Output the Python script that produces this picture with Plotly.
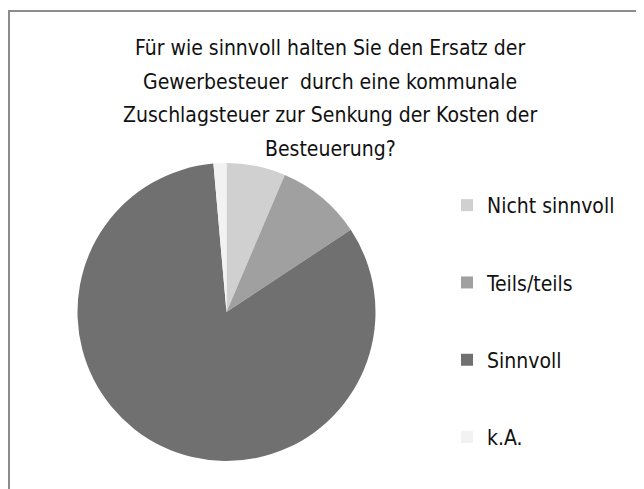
import plotly.graph_objs as go

# Survey answers (share of respondents, %)
labels = ['Nicht sinnvoll', 'Teils/teils', 'Sinnvoll', 'k.A.']
values = [6.4, 9.3, 82.9, 1.4]
colors = ['#d0d0d0', '#a0a0a0', '#707070', '#f2f2f2']

title_lines = [
    'Für wie sinnvoll halten Sie den Ersatz der',
    'Gewerbesteuer  durch eine kommunale',
    'Zuschlagsteuer zur Senkung der Kosten der',
    'Besteuerung?',
]

FONT = 'DejaVu Sans Condensed, Liberation Sans Narrow, sans-serif'
W, H = 644, 489
OFF = 8  # the page body margin shifts the figure by 8px

pie = go.Pie(labels=labels,
             values=values,
             marker=dict(colors=colors, line=dict(width=0)),
             sort=False,
             direction='clockwise',
             rotation=0,
             textinfo='none',
             showlegend=False,
             domain=dict(x=[(77.5 - OFF) / W, (375.5 - OFF) / W],
                         y=[1 - (461 - OFF) / H, 1 - (163 - OFF) / H]))

# legend entries as separate groups so the spacing can follow the original
legend_traces = []
for lab, col in zip(labels, colors):
    legend_traces.append(go.Scatter(x=[None], y=[None],
                                    mode='markers',
                                    name=lab,
                                    legendgroup=lab,
                                    marker=dict(symbol='square', size=12, color=col)))

fig = go.Figure(data=[pie, *legend_traces])

title_y = [48, 82, 115, 149]
for line, yp in zip(title_lines, title_y):
    fig.add_annotation(text=line, x=(330 - OFF) / W, y=1 - (yp - OFF) / H,
                       xref='paper', yref='paper',
                       xanchor='center', yanchor='middle',
                       showarrow=False,
                       font=dict(family=FONT, size=21, color='#111111'))

# outer frame (only top and left edges are visible in the crop)
fig.add_shape(type='rect', xref='paper', yref='paper',
              x0=1 / W, x1=1.05, y0=-0.05, y1=1 - 3 / H,
              line=dict(color='#8c8c8c', width=2))

fig.update_layout(width=W, height=H,
                  margin=dict(l=0, r=0, t=0, b=0),
                  paper_bgcolor='white',
                  plot_bgcolor='white',
                  xaxis=dict(visible=False),
                  yaxis=dict(visible=False),
                  legend=dict(x=439 / W, y=1 - 177 / H,
                              xanchor='left', yanchor='top',
                              tracegroupgap=47,
                              font=dict(family=FONT, size=21, color='#111111'),
                              bgcolor='rgba(0,0,0,0)'))

fig.write_html("out.html")
